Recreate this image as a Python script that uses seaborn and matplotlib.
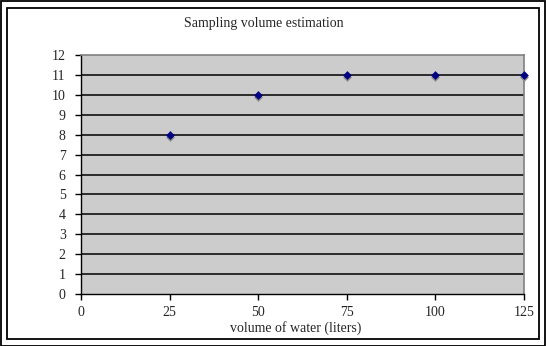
import matplotlib
matplotlib.use("Agg")
import matplotlib.pyplot as plt
import matplotlib.transforms as mtransforms
from matplotlib.patches import Rectangle
import seaborn as sns
import pandas as pd

# Sampling data
volume_liters = [25, 50, 75, 100, 125]
estimate = [8, 10, 11, 11, 11]
x_ticks = [0, 25, 50, 75, 100, 125]
y_ticks = list(range(0, 13))

df = pd.DataFrame({"volume": volume_liters, "estimate": estimate})

sns.set_theme(style="white")
plt.rcParams["font.family"] = ["Liberation Serif", "DejaVu Serif"]

fig = plt.figure(figsize=(5.46, 3.46), dpi=100)
W, H = 546, 346
ax = fig.add_axes([81 / W, 1 - 294 / H, (524 - 81) / W, (294 - 55) / H])
ax.set_facecolor("#cccccc")

# Double frame around the whole chart
fig.patches.append(Rectangle((0.5 / W, 0.5 / H), 1 - 1.5 / W, 1 - 1.5 / H,
                             transform=fig.transFigure, fill=False,
                             edgecolor="black", linewidth=1.3))
fig.patches.append(Rectangle((7 / W, 7 / H), 1 - 14.5 / W, 1 - 14.5 / H,
                             transform=fig.transFigure, fill=False,
                             edgecolor="black", linewidth=1.3))

# Horizontal gridlines
for y in y_ticks[1:-1]:
    ax.axhline(y, color="black", linewidth=1.1, zorder=1)

# Marker shadow, then markers
shadow = mtransforms.offset_copy(ax.transData, fig=fig, x=0, y=-1.5, units="points")
sns.scatterplot(data=df, x="volume", y="estimate", ax=ax, marker="D", s=20,
                color="#8a8a8a", edgecolor="#8a8a8a", linewidth=0,
                transform=shadow, zorder=3, clip_on=False, legend=False)
sns.scatterplot(data=df, x="volume", y="estimate", ax=ax, marker="D", s=20,
                color="#000080", edgecolor="#000080", linewidth=0,
                zorder=4, clip_on=False, legend=False)

ax.set_xlim(0, 125)
ax.set_ylim(0, 12)
ax.set_xticks(x_ticks)
ax.set_yticks(y_ticks)
ax.set_xticklabels([str(v) for v in x_ticks], fontsize=10)
ax.set_yticklabels([str(v) for v in y_ticks], fontsize=10)
ax.tick_params(axis="y", direction="out", length=4, width=1, color="black",
               pad=7, left=True)
ax.tick_params(axis="x", direction="out", length=4, width=1, color="black",
               pad=5, bottom=True)

for side in ["top", "right"]:
    ax.spines[side].set_color("#808080")
    ax.spines[side].set_linewidth(1.2)
for side in ["left", "bottom"]:
    ax.spines[side].set_color("black")
    ax.spines[side].set_linewidth(1.0)

ax.set_xlabel("")
ax.set_ylabel("")
fig.text(296 / W, 1 - 328 / H, "volume of water (liters)", ha="center",
         va="center", fontsize=10)
fig.text(264 / W, 1 - 24 / H, "Sampling volume estimation", ha="center",
         va="center", fontsize=10)

fig.savefig("out.png", dpi=100)
